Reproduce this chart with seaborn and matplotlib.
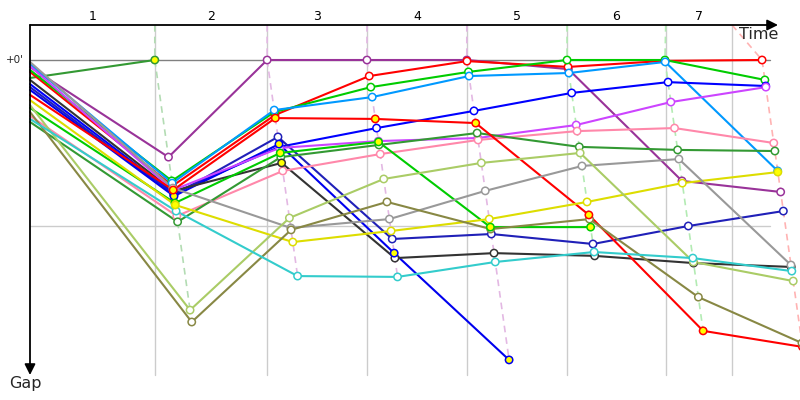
import matplotlib
matplotlib.use("Agg")
import matplotlib.pyplot as plt
import numpy as np
import pandas as pd
import seaborn as sns

sns.set_theme(style="white")
plt.rcParams["font.family"] = ["DejaVu Sans"]

# ---------------- data (seconds) ----------------
lap_labels = ["1", "2", "3", "4", "5", "6", "7"]
leader_times = [0, 320, 608, 864, 1120, 1377, 1628, 1877]   # leader's elapsed time at end of lap i
grid_times = [320, 608, 864, 1120, 1377, 1630, 1800]         # vertical lap marks on the time axis
lap_line_colors = ["#b3dcb3", "#e3b8e3", "#e3b8e3", "#e3b8e3", "#b3ebb3", "#b3ebb3", "#ffb3b3"]

drivers = ["D01", "D02", "D03", "D04", "D05", "D06", "D07", "D08", "D09", "D10",
           "D11", "D12", "D13", "D14", "D15", "D16", "D17", "D18", "D19", "D20"]
driver_colors = ["#339933", "#993399", "#ff0000", "#00cc00", "#0099ff", "#0000ff", "#2020b8",
                 "#0000ee", "#333333", "#cc44ff", "#ff88aa", "#339933", "#ff0000", "#00cc00",
                 "#dddd00", "#999999", "#aacc66", "#888844", "#33cccc", "#cc44ff"]

# gap to leader (s) at lap 0..7 (None = not running)
gap_D01 = [6.5, 0]
gap_D02 = [2.5, 35.1, 0, 0, 0, 3.3, 43.7, 47.7]
gap_D03 = [4.3, 45.5, 19.9, 5.8, 0.4, 2.5, 0.3, 0]
gap_D04 = [3.6, 43.7, 18.8, 9.8, 4.3, 0, 0, 7.2]
gap_D05 = [1.4, 44.5, 18.1, 13.4, 5.8, 4.7, 0.7, 40.1]
gap_D06 = [8.7, 48.1, 31.4, 24.6, 18.4, 11.9, 8.0, 9.4]
gap_D07 = [9.8, 48.8, 27.8, 64.7, 62.9, 66.5, 60.0, 54.6]
gap_D08 = [10.8, 49.2, 30.4, 69.8, 108.4]
gap_D09 = [7.2, 47.3, 37.2, 71.6, 69.8, 70.8, 73.4, 74.8]
gap_D10 = [2.2, 47.0, 31.8, 29.3, 28.2, 23.5, 15.2, 9.8]
gap_D11 = [20.2, 56.4, 40.1, 34.0, 28.9, 25.7, 24.6, 30.0]
gap_D12 = [22.4, 58.5, 35.1, 30.7, 26.4, 31.4, 32.5, 32.9]
gap_D13 = [12.6, 47.0, 21.0, 21.3, 22.8, 56.0, 97.9, 103.7]
gap_D14 = [17.3, 51.7, 33.6, 29.6, 60.4, 60.4]
gap_D15 = [14.5, 52.4, 65.8, 61.8, 57.5, 51.3, 44.5, 40.5]
gap_D16 = [0.7, 46.3, 60.7, 57.5, 47.3, 38.3, 35.8, 74.1]
gap_D17 = [16.3, 90.4, 57.1, 43.0, 37.2, 33.6, 73.0, 79.9]
gap_D18 = [18.8, 94.7, 61.4, 51.3, 61.1, 57.5, 85.7, 102.3]
gap_D19 = [21.3, 54.6, 78.1, 78.4, 73.0, 69.4, 71.6, 76.3]
gap_D20 = [2.0]

gaps = {
    "D01": gap_D01, "D02": gap_D02, "D03": gap_D03, "D04": gap_D04, "D05": gap_D05,
    "D06": gap_D06, "D07": gap_D07, "D08": gap_D08, "D09": gap_D09, "D10": gap_D10,
    "D11": gap_D11, "D12": gap_D12, "D13": gap_D13, "D14": gap_D14, "D15": gap_D15,
    "D16": gap_D16, "D17": gap_D17, "D18": gap_D18, "D19": gap_D19, "D20": gap_D20,
}
# laps where the marker is filled yellow
flag_laps = {
    "D01": [1], "D08": [1, 2, 3, 4], "D09": [2], "D13": [1, 2, 3, 4, 5, 6],
    "D14": [1, 2, 3, 4, 5], "D15": [1, 7],
}

# ---------------- build table ----------------
rows = []
for d in drivers:
    for lap, g in enumerate(gaps[d]):
        if g is None:
            continue
        t = 0 if lap == 0 else leader_times[lap] + g
        rows.append({"driver": d, "lap": lap, "time": t, "gap": g,
                     "flag": lap in flag_laps.get(d, [])})
df = pd.DataFrame(rows)
palette = dict(zip(drivers, driver_colors))
df["color"] = df["driver"].map(palette)

# ---------------- figure ----------------
fig = plt.figure(figsize=(8, 4), dpi=100)
ax = fig.add_axes([0, 0, 1, 1])
ax.set_axis_off()

px_t = 2.564          # seconds per pixel horizontally
px_g = 60 / 166       # seconds per pixel vertically
x0_px, y0_px = 30, 60
ax.set_xlim(-x0_px * px_t, (800 - x0_px) * px_t)
ax.set_ylim((400 - y0_px) * px_g, -y0_px * px_g)

top = -35 * px_g
bottom = 315 * px_g
right_end = 740 * px_t

# grid
for gt in grid_times:
    ax.plot([gt, gt], [top, bottom], color="#cccccc", lw=1, zorder=1)
ax.plot([0, right_end], [60, 60], color="#cccccc", lw=1, zorder=1)
ax.plot([0, right_end], [0, 0], color="#808080", lw=1, zorder=1.5)

# lap lines (dashed)
for k in range(1, len(leader_times)):
    sub = df[df["lap"] == k].sort_values("gap")
    if k == 1:
        sub = sub.iloc[:-1]
    xs = [grid_times[k - 1]] + list(sub["time"])
    ys = [top] + list(sub["gap"])
    ax.plot(xs, ys, color=lap_line_colors[k - 1], lw=1.2, ls=(0, (4, 3)), zorder=2)

# driver lines
sns.lineplot(data=df, x="time", y="gap", hue="driver", palette=palette, sort=False,
             estimator=None, legend=False, linewidth=1.5, ax=ax, zorder=3)

# markers (not at the start)
mk = df[df["lap"] > 0]
plain = mk[~mk["flag"]]
flag = mk[mk["flag"]]
ax.scatter(plain["time"], plain["gap"], s=28, facecolor="white",
           edgecolor=plain["color"], linewidth=1.1, zorder=4)
ax.scatter(flag["time"], flag["gap"], s=28, facecolor="#ffff00",
           edgecolor=flag["color"], linewidth=1.1, zorder=4)

# axes arrows
ax.annotate("", xy=(748 * px_t, top), xytext=(0, top),
            arrowprops=dict(arrowstyle="-|>", color="black", lw=1.3,
                            mutation_scale=16, shrinkA=0, shrinkB=0), zorder=6)
ax.annotate("", xy=(0, bottom), xytext=(0, top),
            arrowprops=dict(arrowstyle="-|>", color="black", lw=1.3,
                            mutation_scale=16, shrinkA=0, shrinkB=0), zorder=6)

# labels
bounds = [0] + grid_times
for i, lab in enumerate(lap_labels):
    ax.text((bounds[i] + bounds[i + 1]) / 2, -43 * px_g, lab, ha="center", va="center",
            fontsize=9, color="black")
ax.text(748 * px_t, -25 * px_g, "Time", ha="right", va="center", fontsize=11.5)
ax.text(-5 * px_t, 324 * px_g, "Gap", ha="center", va="center", fontsize=11.5)
ax.text(-6 * px_t, 0, "+0'", ha="right", va="center", fontsize=7.5)

fig.savefig("out.png", dpi=100)
